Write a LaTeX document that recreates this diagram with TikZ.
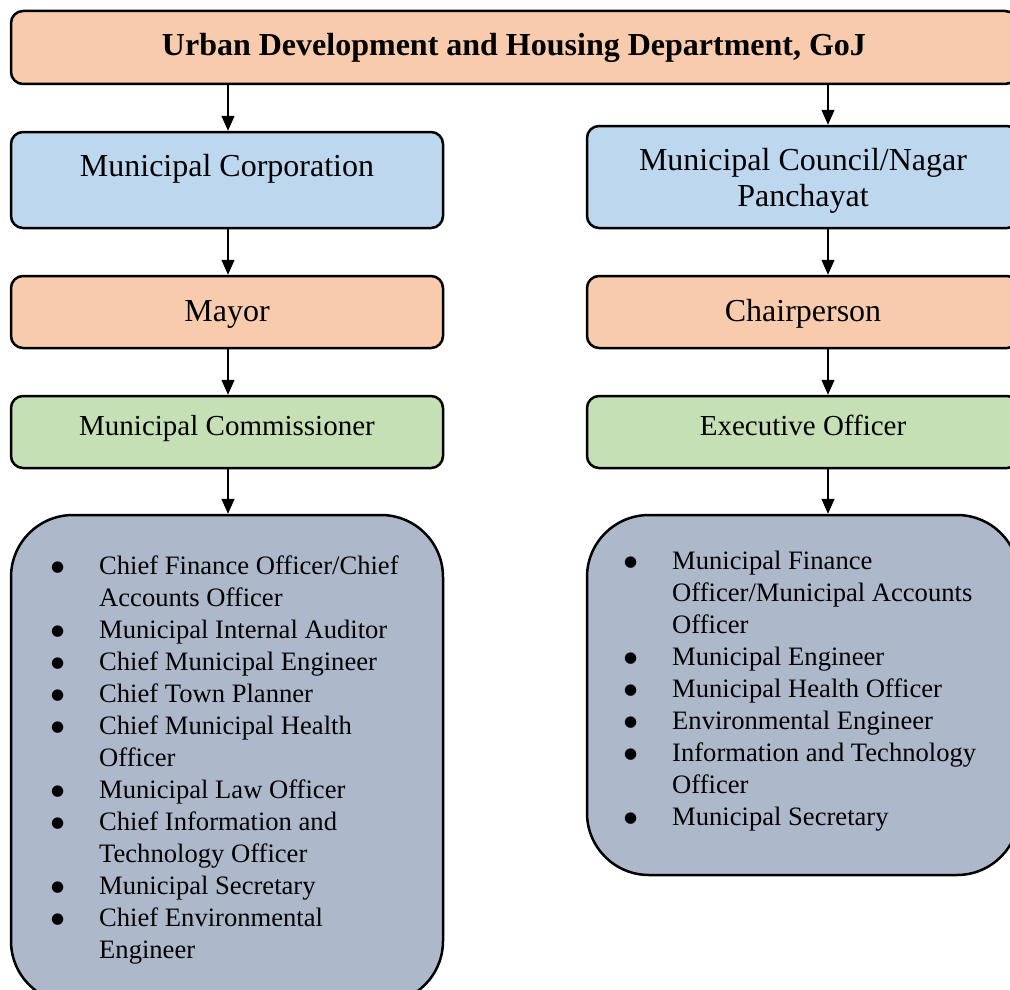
\documentclass[tikz,border=0pt]{standalone}
\usepackage{fontspec}
\setmainfont{Liberation Serif}
\newfontfamily\bulletfont{DejaVu Sans}
\usetikzlibrary{arrows.meta,calc}
\definecolor{corange}{HTML}{F8CBAD}
\definecolor{cblue}{HTML}{BDD7EE}
\definecolor{cgreen}{HTML}{C5E0B4}
\definecolor{cgray}{HTML}{ADB9CA}
\newcommand\bul{\makebox[47pt][l]{\hspace{-1pt}\raisebox{3pt}{\bulletfont\fontsize{15}{15}\selectfont ●}}}
\newcommand\cnt{\hspace*{47pt}}
\begin{document}
\begin{tikzpicture}[x=1pt,y=-1pt,
  box/.style={draw=black,line width=2.5pt,rounded corners=12pt,inner sep=0pt,align=center},
  arr/.style={line width=1.3pt,-{Triangle[length=15pt,width=13pt]}},
  bigfont/.style={font=\fontsize{32}{36}\selectfont},
  midfont/.style={font=\fontsize{29}{34}\selectfont},
  onebig/.style={bigfont,text height=23pt,text depth=5pt},
  onemid/.style={midfont,text height=19pt,text depth=13pt},
  listbox/.style={draw=black,line width=2.5pt,rounded corners=62pt,fill=cgray,inner sep=0pt},
  listtext/.style={font=\fontsize{26.6}{32}\selectfont,align=left,inner sep=0pt,anchor=north west}]
\useasboundingbox (0,0) rectangle (1010,990);
% top
\node[box,fill=corange,minimum width=1006pt,minimum height=73pt,font=\fontsize{32}{36}\selectfont\bfseries] (top) at (514,47.5) {Urban Development and Housing Department, GoJ};
% level 1
\node[box,fill=cblue,bigfont,minimum width=432pt,minimum height=96pt] (mc) at (227,180) {\rule{0pt}{28pt}Municipal Corporation\\\mbox{}};
\node[box,fill=cblue,bigfont,minimum width=432pt,minimum height=102pt] (council) at (803,177) {\rule{0pt}{30pt}Municipal Council/Nagar\\Panchayat};
% level 2
\node[box,fill=corange,onebig,minimum width=432pt,minimum height=72pt] (mayor) at (227,312) {Mayor};
\node[box,fill=corange,onebig,minimum width=432pt,minimum height=72pt] (chair) at (803,312) {Chairperson};
% level 3
\node[box,fill=cgreen,onemid,minimum width=432pt,minimum height=72pt] (comm) at (227,432) {Municipal Commissioner};
\node[box,fill=cgreen,onemid,minimum width=432pt,minimum height=72pt] (exec) at (803,432) {Executive Officer};
% lists
\node[listbox,minimum width=432pt,minimum height=488pt] (lbox) at (227,759) {};
\node[listbox,minimum width=432pt,minimum height=360pt] (rbox) at (803,695) {};
\node[listtext] (ltext) at (52,555.5) {%
\bul Chief Finance Officer/Chief\\
\cnt Accounts Officer\\
\bul Municipal Internal Auditor\\
\bul Chief Municipal Engineer\\
\bul Chief Town Planner\\
\bul Chief Municipal Health\\
\cnt Officer\\
\bul Municipal Law Officer\\
\bul Chief Information and\\
\cnt Technology Officer\\
\bul Municipal Secretary\\
\bul Chief Environmental\\
\cnt Engineer};
\node[listtext] (rtext) at (625,551) {%
\bul Municipal Finance\\
\cnt Officer/Municipal Accounts\\
\cnt Officer\\
\bul Municipal Engineer\\
\bul Municipal Health Officer\\
\bul Environmental Engineer\\
\bul Information and Technology\\
\cnt Officer\\
\bul Municipal Secretary};
% connectors
\coordinate (lx) at (228,0);
\coordinate (rx) at (828,0);
\draw[arr] (top.south -| lx) -- (mc.north -| lx);
\draw[arr] (top.south -| rx) -- (council.north -| rx);
\draw[arr] (mc.south -| lx) -- (mayor.north -| lx);
\draw[arr] (council.south -| rx) -- (chair.north -| rx);
\draw[arr] (mayor.south -| lx) -- (comm.north -| lx);
\draw[arr] (chair.south -| rx) -- (exec.north -| rx);
\draw[arr] (comm.south -| lx) -- (lbox.north -| lx);
\draw[arr] (exec.south -| rx) -- (rbox.north -| rx);
\end{tikzpicture}
\end{document}
